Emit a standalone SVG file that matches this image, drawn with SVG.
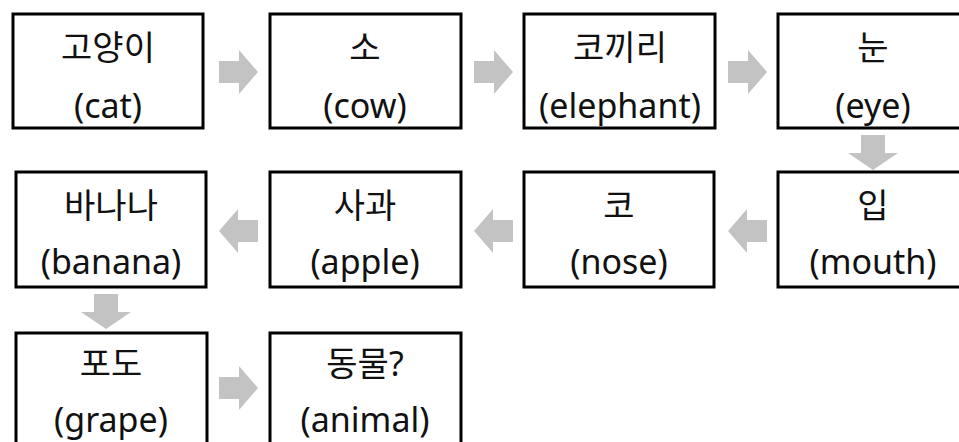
<svg xmlns="http://www.w3.org/2000/svg" width="959" height="442" viewBox="0 0 959 442">
<style>
.box{fill:#fff;stroke:#000;stroke-width:3}
.t{font-family:"Noto Sans","Noto Sans CJK KR",sans-serif;font-size:34px;fill:#111;text-anchor:middle}
.arr{fill:#c3c3c3}
</style>
<defs>
<polygon id="ar" points="0,-11 20,-11 20,-22 39,0 20,22 20,11 0,11"/>
<polygon id="ad" points="-12,0 12,0 12,18 25,18 0,35 -25,18 -12,18"/>
</defs>
<rect width="959" height="442" fill="#fff"/>
<g id="connectors" class="arr">
<use href="#ar" x="219" y="72"/>
<use href="#ar" x="474" y="72"/>
<use href="#ar" x="728" y="72"/>
<use href="#ad" x="873" y="135"/>
<use href="#ar" transform="translate(767,231) scale(-1,1)"/>
<use href="#ar" transform="translate(513,231) scale(-1,1)"/>
<use href="#ar" transform="translate(258,231) scale(-1,1)"/>
<use href="#ad" x="106" y="294"/>
<use href="#ar" x="219" y="388"/>
</g>
<g id="n1"><rect class="box" x="13" y="14" width="190" height="114"/><text class="t" x="108" y="60">고양이</text><text class="t" x="108" y="118">(cat)</text></g>
<g id="n2"><rect class="box" x="270" y="14" width="191" height="114"/><text class="t" x="365" y="60">소</text><text class="t" x="365" y="118">(cow)</text></g>
<g id="n3"><rect class="box" x="524" y="14" width="191" height="114"/><text class="t" x="620" y="60">코끼리</text><text class="t" x="620" y="118">(elephant)</text></g>
<g id="n4"><rect class="box" x="778" y="14" width="192" height="114"/><text class="t" x="873" y="60">눈</text><text class="t" x="873" y="118">(eye)</text></g>
<g id="n8"><rect class="box" x="778" y="172" width="192" height="115"/><text class="t" x="873" y="218">입</text><text class="t" x="873" y="274">(mouth)</text></g>
<g id="n7"><rect class="box" x="524" y="172" width="190" height="115"/><text class="t" x="619" y="218">코</text><text class="t" x="619" y="274">(nose)</text></g>
<g id="n6"><rect class="box" x="270" y="172" width="191" height="115"/><text class="t" x="365" y="218">사과</text><text class="t" x="365" y="274">(apple)</text></g>
<g id="n5"><rect class="box" x="16" y="172" width="190" height="115"/><text class="t" x="111" y="218">바나나</text><text class="t" x="111" y="274">(banana)</text></g>
<g id="n9"><rect class="box" x="16" y="333" width="191" height="115"/><text class="t" x="111" y="376">포도</text><text class="t" x="111" y="432">(grape)</text></g>
<g id="n10"><rect class="box" x="270" y="333" width="191" height="115"/><text class="t" x="365" y="376">동물?</text><text class="t" x="365" y="432">(animal)</text></g>
</svg>
